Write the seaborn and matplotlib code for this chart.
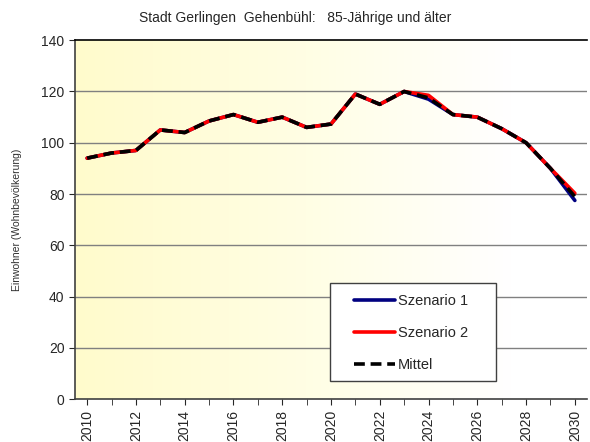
import numpy as np
import pandas as pd
import matplotlib
matplotlib.use("Agg")
import matplotlib.pyplot as plt
from matplotlib.patches import Rectangle
import seaborn as sns

# data
jahre = list(range(2010, 2031))
szenario1 = [94, 96, 97, 105, 104, 108.5, 111, 108, 110, 106, 107.3,
             119, 115, 120, 117, 111, 110, 105.5, 100, 90, 77.5]
szenario2 = [94, 96, 97, 105, 104, 108.5, 111, 108, 110, 106, 107.3,
             119, 115, 120, 118.5, 111, 110, 105.5, 100, 90, 80.3]
mittel = [94, 96, 97, 105, 104, 108.5, 111, 108, 110, 106, 107.3,
          119, 115, 120, 117.5, 111, 110, 105.5, 100, 90, 79]

df = pd.DataFrame({"Jahr": jahre, "Szenario 1": szenario1,
                   "Szenario 2": szenario2, "Mittel": mittel})

sns.set_style("white")
plt.rcParams["font.family"] = ["Liberation Sans", "DejaVu Sans"]

fig = plt.figure(figsize=(5.9, 4.42), dpi=100)
ax = fig.add_axes([0.127, 0.097, 0.868, 0.812])

# yellow to white gradient background
grad = np.linspace(0, 1, 256).reshape(1, -1)
cmap = matplotlib.colors.LinearSegmentedColormap.from_list(
    "bg", [(0, "#FFFBCC"), (0.45, "#FFFEE4"), (0.85, "#FFFFFF"), (1, "#FFFFFF")])
ax.imshow(grad, cmap=cmap, aspect="auto", extent=[0, 1, 0, 1],
          transform=ax.transAxes, zorder=0)

for y in range(20, 140, 20):
    ax.axhline(y, color="#808080", lw=1, zorder=1)

sns.lineplot(data=df, x="Jahr", y="Szenario 1", ax=ax, color="#000080",
             lw=2.6, label="Szenario 1", zorder=3)
sns.lineplot(data=df, x="Jahr", y="Szenario 2", ax=ax, color="#FF0000",
             lw=2.6, label="Szenario 2", zorder=4)
sns.lineplot(data=df, x="Jahr", y="Mittel", ax=ax, color="black",
             lw=2.6, label="Mittel", zorder=5, dashes=False)
ax.lines[-1].set_dashes([3, 1.6])

ax.set_xlim(2009.5, 2030.5)
ax.set_ylim(0, 140)
ax.set_yticks(range(0, 141, 20))
ax.set_xticks(jahre, minor=True)
ax.set_xticks(jahre[::2])
ax.set_xticklabels([str(j) for j in jahre[::2]], rotation=90, fontsize=10)
ax.tick_params(axis="y", labelsize=10, length=4, direction="out", left=True)
ax.tick_params(axis="x", which="both", length=4, direction="out", bottom=True)

for s in ["left", "bottom"]:
    ax.spines[s].set_color("#404040")
    ax.spines[s].set_linewidth(1.2)
ax.spines["top"].set_color("black")
ax.spines["top"].set_linewidth(1.2)
ax.spines["right"].set_visible(False)

ax.set_xlabel("")
ax.set_ylabel("Einwohner (Wohnbevölkerung)", fontsize=7.5, labelpad=14,
              color="#303030")
fig.suptitle("Stadt Gerlingen  Gehenbühl:   85-Jährige und älter",
             fontsize=10, y=0.975)

# legend box drawn as a frame, entries placed inside it
frame = Rectangle((0.498, 0.050), 0.324, 0.273, transform=ax.transAxes,
                  facecolor="white", edgecolor="#404040", lw=1, zorder=9)
ax.add_patch(frame)
leg = ax.legend(loc="upper left", bbox_to_anchor=(0.545, 0.293),
                fontsize=10.5, frameon=False,
                handlelength=2.8, handletextpad=0.2, labelspacing=1.25,
                borderpad=0, borderaxespad=0)
leg.set_zorder(10)

fig.savefig("out.png", dpi=100)
